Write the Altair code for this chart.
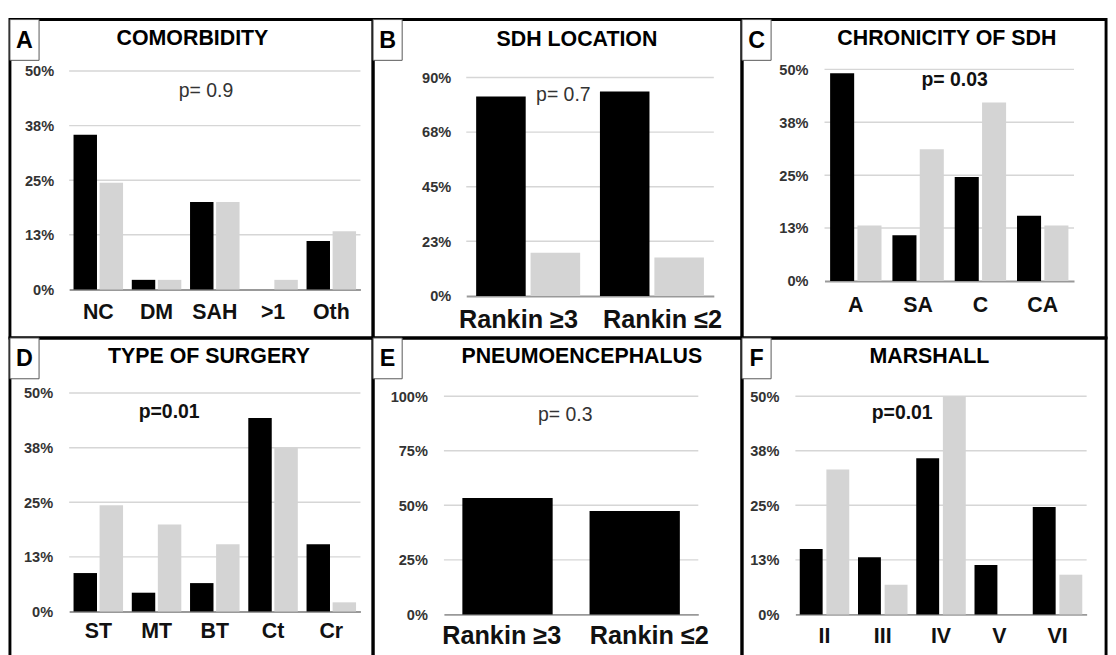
import altair as alt
import pandas as pd

FONT = "Liberation Sans"

# ---------------- data ----------------
SERIES = ["Rankin ≥3", "Rankin ≤2"]          # black, gray
SERIES_B = ["Series 1", "Series 2"]          # black, gray (panel B)
SERIES_E = ["Pneumoencephalus"]              # black only (panel E)
COLORS2 = ["#000000", "#d4d4d4"]

A_CATS = ["NC", "DM", "SAH", ">1", "Oth"]
A_BLACK = [35.4, 2.2, 20.0, 0.0, 11.1]
A_GRAY = [24.4, 2.2, 20.0, 2.2, 13.3]

B_CATS = ["Rankin ≥3", "Rankin ≤2"]
B_BLACK = [82.2, 84.2]
B_GRAY = [17.8, 15.8]

C_CATS = ["A", "SA", "C", "CA"]
C_BLACK = [49.1, 10.8, 24.6, 15.4]
C_GRAY = [13.1, 31.1, 42.2, 13.1]

D_CATS = ["ST", "MT", "BT", "Ct", "Cr"]
D_BLACK = [8.8, 4.3, 6.5, 44.3, 15.4]
D_GRAY = [24.3, 19.9, 15.4, 37.5, 2.1]

E_CATS = ["Rankin ≥3", "Rankin ≤2"]
E_BLACK = [53.4, 47.4]

F_CATS = ["II", "III", "IV", "V", "VI"]
F_BLACK = [15.0, 13.1, 35.8, 11.3, 24.6]
F_GRAY = [33.2, 6.8, 50.0, 0.0, 9.1]

TICKS_50 = [0, 12.5, 25, 37.5, 50]
TICKS_90 = [0, 22.5, 45, 67.5, 90]
TICKS_100 = [0, 25, 50, 75, 100]


def text_layer(s, x, y, size, weight, color="#000000"):
    return alt.Chart(pd.DataFrame({"t": [s]})).mark_text(
        font=FONT, fontSize=size, fontWeight=weight, color=color,
        align="center", baseline="middle"
    ).encode(text="t:N", x=alt.value(x), y=alt.value(y))


def panel(letter, title, cats, series_names, series_vals, colors, ticks, cfg):
    W, H = cfg["W"], cfg["H"]
    y0, ytop = cfg["y0"], cfg["ytop"]
    x0, x1 = cfg["x0"], cfg["x1"]
    n = len(cats)
    step = (x1 - x0) / (n - cfg["pi"] + 2 * cfg["po"])
    bw = step * (1 - cfg["pi"])
    k = len(series_names)
    oi = cfg.get("oi", 0.1)
    sub = bw / (k - oi) if k > 1 else bw
    bar_w = sub * (1 - oi) if k > 1 else bw

    yscale = alt.Scale(domain=[0, ticks[-1]], range=[y0, ytop], nice=False)
    yaxis = alt.Axis(
        title=None, domain=False, ticks=False, tickSize=0, grid=False,
        values=ticks, labelExpr="round(datum.value) + '%'",
        labelFont=FONT, labelFontSize=15, labelFontWeight="bold",
        labelColor="#333333", labelPadding=0, labelOverlap=False,
        offset=-cfg["ylab"],
    )
    xaxis_kw = dict(
        title=None, domain=True, domainColor="#999999", domainWidth=2,
        ticks=False, tickSize=0, grid=False, labelAngle=0,
        labelFont=FONT, labelFontSize=cfg["xfs"], labelFontWeight="bold",
        labelColor="#111111", labelPadding=cfg["xpad"], labelBaseline="middle",
        offset=-(H - y0),
    )
    if "loff" in cfg:
        xaxis_kw["labelOffset"] = {
            "condition": {"test": f"datum.value == '{cats[0]}'", "value": cfg["loff"][0]},
            "value": cfg["loff"][1],
        }
    xaxis = alt.Axis(**xaxis_kw)
    xscale = alt.Scale(domain=cats, range=[x0, x1],
                       paddingInner=cfg["pi"], paddingOuter=cfg["po"])
    cscale = alt.Scale(domain=series_names, range=colors)

    bar_layers = []
    for i, (s_name, vals) in enumerate(zip(series_names, series_vals)):
        df = pd.DataFrame({"cat": cats, "series": [s_name] * n, "val": vals})
        off = (i - (k - 1) / 2) * sub
        bar_layers.append(
            alt.Chart(df).mark_bar(width=bar_w, xOffset=off).encode(
                x=alt.X("cat:N", scale=xscale, sort=cats, axis=xaxis),
                y=alt.Y("val:Q", scale=yscale, axis=yaxis),
                color=alt.Color("series:N", scale=cscale, legend=None),
            )
        )

    grid = alt.Chart(pd.DataFrame({"val": ticks[1:]})).mark_rule(
        color="#d6d6d6", strokeWidth=1.5
    ).encode(
        y=alt.Y("val:Q", scale=yscale, axis=yaxis),
        x=alt.value(x0), x2=alt.value(x1),
    )

    box = alt.Chart(pd.DataFrame({"t": [letter]})).mark_rect(
        fill="white", stroke="#555555", strokeWidth=1
    ).encode(x=alt.value(0), x2=alt.value(30), y=alt.value(0), y2=alt.value(42))

    layers = [grid] + bar_layers + [
        box,
        text_layer(letter, 15, 22, 24, "bold"),
        text_layer(title, cfg["tx"], cfg["ty"], 22, "bold"),
        text_layer(cfg["p"], cfg["px"], cfg["py"], 20, cfg["pw"],
                   "#333333" if cfg["pw"] == "normal" else "#111111"),
    ]
    return alt.layer(*layers).properties(width=W, height=H)


pA = panel("A", "COMORBIDITY", A_CATS, SERIES, [A_BLACK, A_GRAY], COLORS2, TICKS_50,
           dict(W=374, H=328, y0=278, ytop=53, x0=61, x1=361, pi=0.15, po=0.075,
                ylab=45, xfs=22, xpad=23, tx=188, ty=19,
                p="p= 0.9", px=202, py=74, pw="normal"))
pB = panel("B", "SDH LOCATION", B_CATS, SERIES_B, [B_BLACK, B_GRAY], COLORS2, TICKS_90,
           dict(W=380, H=328, y0=284.7, ytop=59.7, x0=96, x1=351, pi=0.16, po=0.08,
                ylab=80, xfs=26, xpad=25, tx=210, ty=20, oi=0.09,
                p="p= 0.7", px=196, py=78, pw="normal", loff=[-10, 11]))
pC = panel("C", "CHRONICITY OF SDH", C_CATS, SERIES, [C_BLACK, C_GRAY], COLORS2, TICKS_50,
           dict(W=375, H=328, y0=269.3, ytop=51.3, x0=85, x1=342, pi=0.175, po=0.09,
                ylab=68, xfs=22, xpad=24, tx=211, ty=19.5, oi=0.12,
                p="p= 0.03", px=219, py=62, pw="bold"))
pD = panel("D", "TYPE OF SURGERY", D_CATS, SERIES, [D_BLACK, D_GRAY], COLORS2, TICKS_50,
           dict(W=374, H=328, y0=281.7, ytop=56.7, x0=61, x1=361, pi=0.15, po=0.075,
                ylab=44, xfs=22, xpad=20, tx=205, ty=19,
                p="p=0.01", px=164, py=76, pw="bold"))
pE = panel("E", "PNEUMOENCEPHALUS", E_CATS, SERIES_E, [E_BLACK], ["#000000"], TICKS_100,
           dict(W=380, H=328, y0=284.7, ytop=60, x0=73, x1=335, pi=0.29, po=0.145,
                ylab=56, xfs=26, xpad=22, tx=215, ty=19,
                p="p= 0.3", px=198, py=79, pw="normal", loff=[-6, 15]))
pF = panel("F", "MARSHALL", F_CATS, SERIES, [F_BLACK, F_GRAY], COLORS2, TICKS_50,
           dict(W=375, H=328, y0=284.7, ytop=60, x0=55, x1=355, pi=0.15, po=0.075,
                ylab=38, xfs=22, xpad=22, tx=193, ty=19, oi=0.14,
                p="p=0.01", px=165, py=77, pw="bold"))

chart = alt.concat(pA, pB, pC, pD, pE, pF, columns=3, spacing=0, bounds="flush").configure(
    font=FONT, background="white",
    view=alt.ViewConfig(stroke="black", strokeWidth=3),
).properties(padding=0)

chart.save("out.html", embed_options={"renderer": "svg", "actions": False})
